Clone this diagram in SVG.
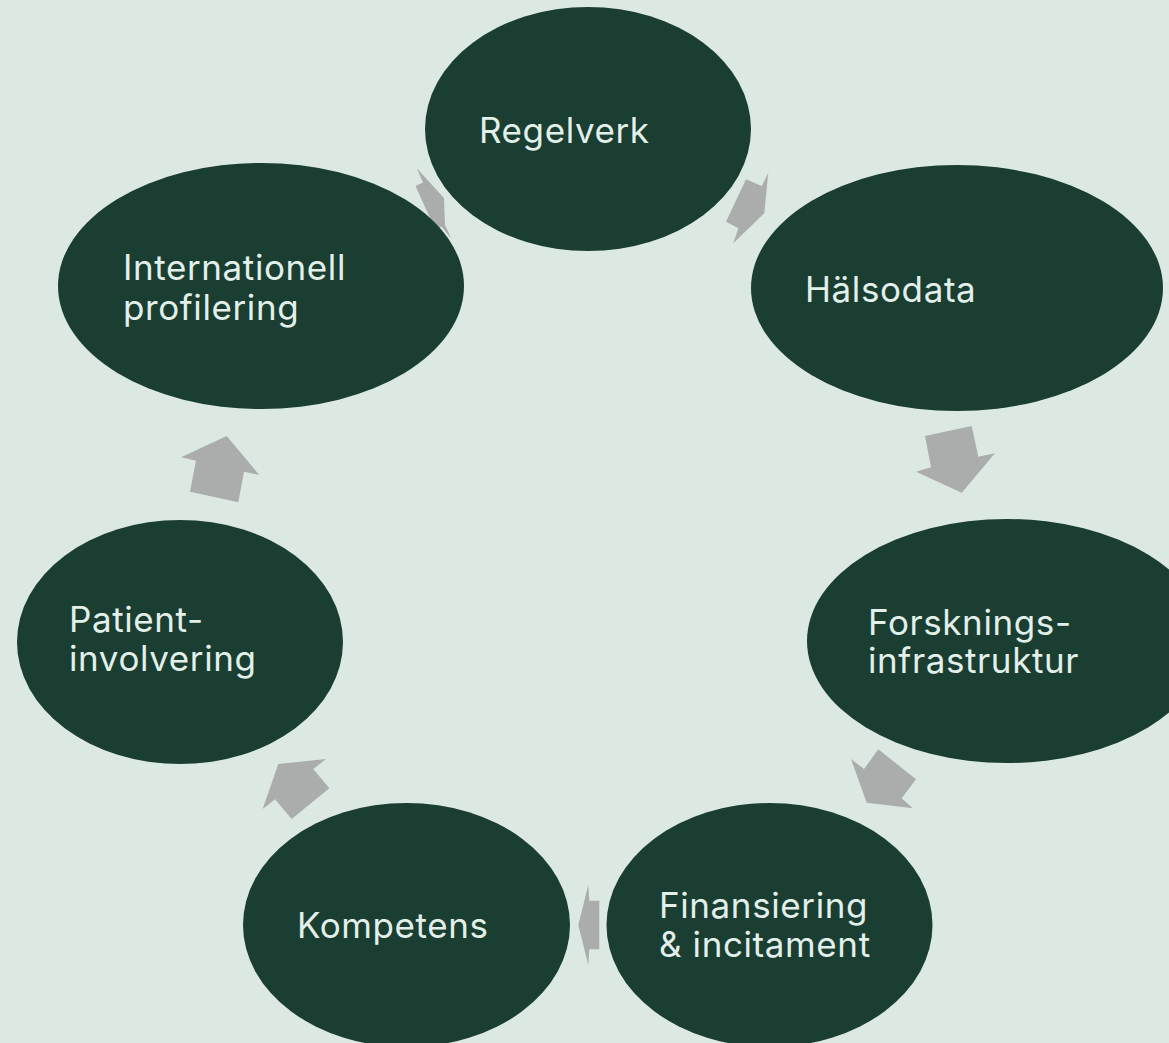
<svg xmlns="http://www.w3.org/2000/svg" width="1169" height="1043" viewBox="0 0 1169 1043">
  <style>
    .bg { fill: #dce9e2; }
    .node ellipse { fill: #1a3e31; }
    .node text { fill: #e3efe9; font-family: Inter, "Liberation Sans", sans-serif; font-size: 35px; letter-spacing: 0.6px; }
    .arrow { fill: #aaadab; }
  </style>
  <rect class="bg" x="0" y="0" width="1169" height="1043"/>
  <g id="connectors">
    <polygon class="arrow" points="416.7,168.3 444,198 445,225 451.5,239 441.7,226.7 435,229 415.5,186 423,182.5"/>
    <polygon class="arrow" points="768.3,172.7 764.3,213.3 733.3,243.3 738.3,228.3 726,221.7 746,179.3 761.7,186"/>
    <polygon class="arrow" points="925,436 971.7,426 978.3,456.7 995,453.3 961.7,492.7 916,471.7 931,467.3"/>
    <polygon class="arrow" points="851,759 864,769 878.3,749.3 916,779.3 901.7,798.3 912.7,808.3 866.7,802.7"/>
    <polygon class="arrow" points="588.3,885 589.3,900.7 599.3,900.7 599.3,949.3 589.3,949.3 588.3,965 578.3,925"/>
    <polygon class="arrow" points="326,759 313.3,769 329.3,788.3 291.7,819 275,799.3 262.7,809 278.3,764"/>
    <polygon class="arrow" points="226.7,436 259.3,475 244,471.7 238.3,502.3 190,491.7 196,460.7 181,457.3"/>
  </g>
  <g id="node-regelverk" class="node">
    <ellipse cx="588" cy="129" rx="163" ry="122"/>
    <text x="479" y="143">Regelverk</text>
  </g>
  <g id="node-halsodata" class="node">
    <ellipse cx="957" cy="288" rx="206" ry="123"/>
    <text x="805" y="302">Hälsodata</text>
  </g>
  <g id="node-forskningsinfrastruktur" class="node">
    <ellipse cx="1007" cy="641" rx="200" ry="122"/>
    <text x="868" y="635">Forsknings-</text>
    <text x="868" y="673">infrastruktur</text>
  </g>
  <g id="node-finansiering" class="node">
    <ellipse cx="769.5" cy="925" rx="163" ry="122"/>
    <text x="659" y="918">Finansiering</text>
    <text x="659" y="957">&amp; incitament</text>
  </g>
  <g id="node-kompetens" class="node">
    <ellipse cx="406.5" cy="925" rx="163.5" ry="122"/>
    <text x="297" y="938">Kompetens</text>
  </g>
  <g id="node-patientinvolvering" class="node">
    <ellipse cx="180" cy="642" rx="163" ry="122"/>
    <text x="69" y="632">Patient-</text>
    <text x="69" y="671">involvering</text>
  </g>
  <g id="node-internationell" class="node">
    <ellipse cx="261" cy="286" rx="203" ry="123"/>
    <text x="123" y="280">Internationell</text>
    <text x="123" y="320">profilering</text>
  </g>
</svg>
